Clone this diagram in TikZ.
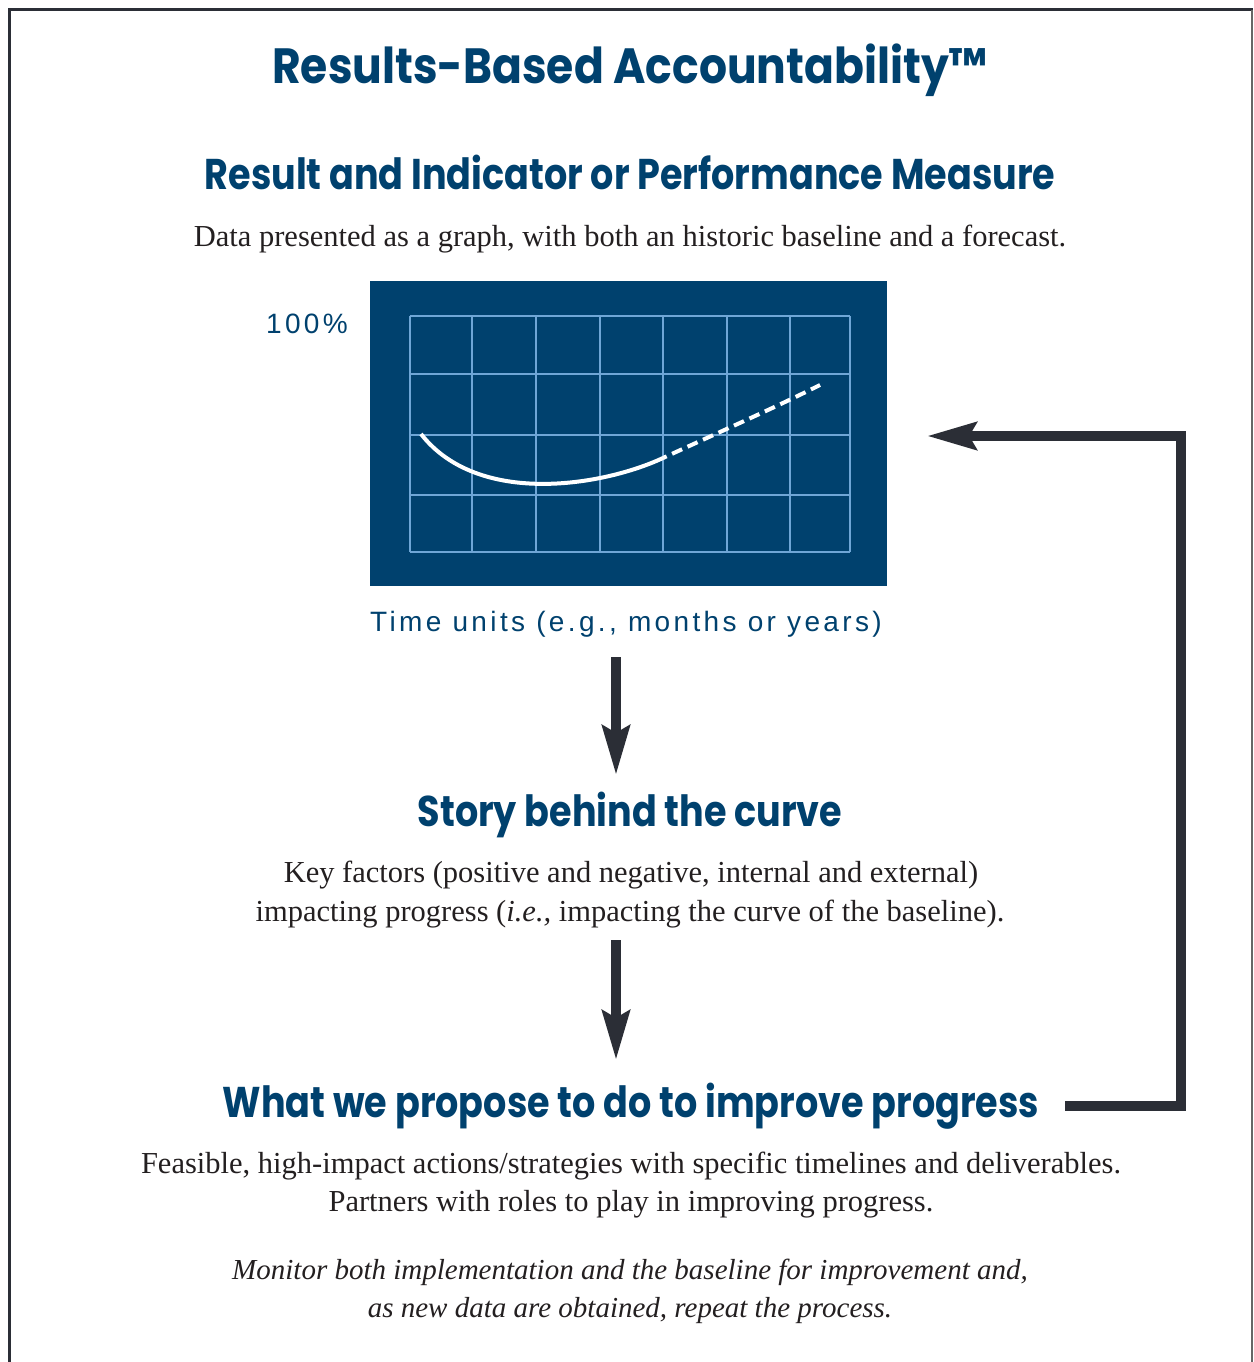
\documentclass[tikz,border=0pt]{standalone}
\usepackage{fontspec}
\setmainfont{Liberation Serif}
\newfontfamily\headfont{Poppins}[FakeStretch=0.85]
\newfontfamily\titlefont{Poppins}[FakeStretch=0.89]
\newfontfamily\graphfont{Liberation Sans}[LetterSpace=12]
\usetikzlibrary{arrows.meta}
\definecolor{rbablue}{HTML}{00416E}
\definecolor{gridblue}{HTML}{6FA6D6}
\definecolor{arrowgray}{HTML}{2B2E36}
\definecolor{textgray}{HTML}{231F20}
\tikzset{
  title/.style={font=\titlefont\bfseries\fontsize{49.5}{56}\selectfont, text=rbablue, anchor=base, inner sep=0pt},
  heading/.style={font=\headfont\bfseries\fontsize{43}{50}\selectfont, text=rbablue, anchor=base, inner sep=0pt},
  body/.style={font=\fontsize{30.5}{39}\selectfont, text=textgray, anchor=base, inner sep=0pt},
  bodyit/.style={font=\itshape\fontsize{29}{39}\selectfont, text=textgray, anchor=base, inner sep=0pt},
  graphlabel/.style={font=\graphfont\fontsize{28}{32}\selectfont, text=rbablue, anchor=base, inner sep=0pt},
  bigarrow/.style={draw=arrowgray, line width=10pt, -{Stealth[length=49pt,width=27pt,inset=7pt]}},
}
\begin{document}
\begin{tikzpicture}[x=1pt,y=-1pt]
\useasboundingbox (0,0) rectangle (1253,1362);
% frame
\draw[arrowgray, line width=3pt] (9,1362) -- (9,10) -- (1253,10);
\draw[gray!80!black, line width=2pt] (1252,10) -- (1252,1362);

\node[title] (t) at (630,84) {Results-Based Accountability™};
\node[heading] (h1) at (630,189) {Result and Indicator or Performance Measure};
\node[body] (d1) at (630,246) {Data presented as a graph, with both an historic baseline and a forecast.};

% graph
\node[fill=rbablue, minimum width=517pt, minimum height=305pt, inner sep=0pt, anchor=north west] (graph) at (370,281) {};
\foreach \x in {410,472,536,600,663,727,790,850} \draw[gridblue, line width=2pt] (\x,316) -- (\x,552);
\foreach \y in {316,374,435,495,552} \draw[gridblue, line width=2pt] (410,\y) -- (850,\y);
\draw[white, line width=4pt] (421,434) .. controls (478,507) and (603,486) .. (663,458);
\draw[white, line width=4pt, dash pattern=on 11pt off 6pt, dash phase=-10pt] (663,458) .. controls (715,434) and (770,410) .. (820,385);
\node[graphlabel] (pct) at (307,333) {100\%};
\node[graphlabel] (time) at (626,631) {Time units (e.g., months or years)};

\node[heading] (h2) at (630,826) {Story behind the curve};
\node[body] (d2a) at (631,882) {Key factors (positive and negative, internal and external)};
\node[body] (d2b) at (630,921) {impacting progress (\textit{i.e.,} impacting the curve of the baseline).};

\node[heading] (h3) at (631,1117) {What we propose to do to improve progress};
\node[body] (d3a) at (631,1173) {Feasible, high-impact actions/strategies with specific timelines and deliverables.};
\node[body] (d3b) at (631,1211) {Partners with roles to play in improving progress.};
\node[bodyit] (m1) at (630,1279) {Monitor both implementation and the baseline for improvement and,};
\node[bodyit] (m2) at (630,1317) {as new data are obtained, repeat the process.};

% arrows
\coordinate (a1s) at (616,657);
\coordinate (a1e) at (616,775);
\coordinate (a2s) at (616,940);
\coordinate (a2e) at (616,1060);
\draw[bigarrow] (a1s) -- (a1e);
\draw[bigarrow] (a2s) -- (a2e);
\coordinate (fbs) at (1065,1106);
\coordinate (fbc1) at (1181,1106);
\coordinate (fbc2) at (1181,436);
\coordinate (fbe) at (927,436);
\draw[bigarrow, line join=miter] (fbs) -- (fbc1) -- (fbc2) -- (fbe);
\end{tikzpicture}
\end{document}
